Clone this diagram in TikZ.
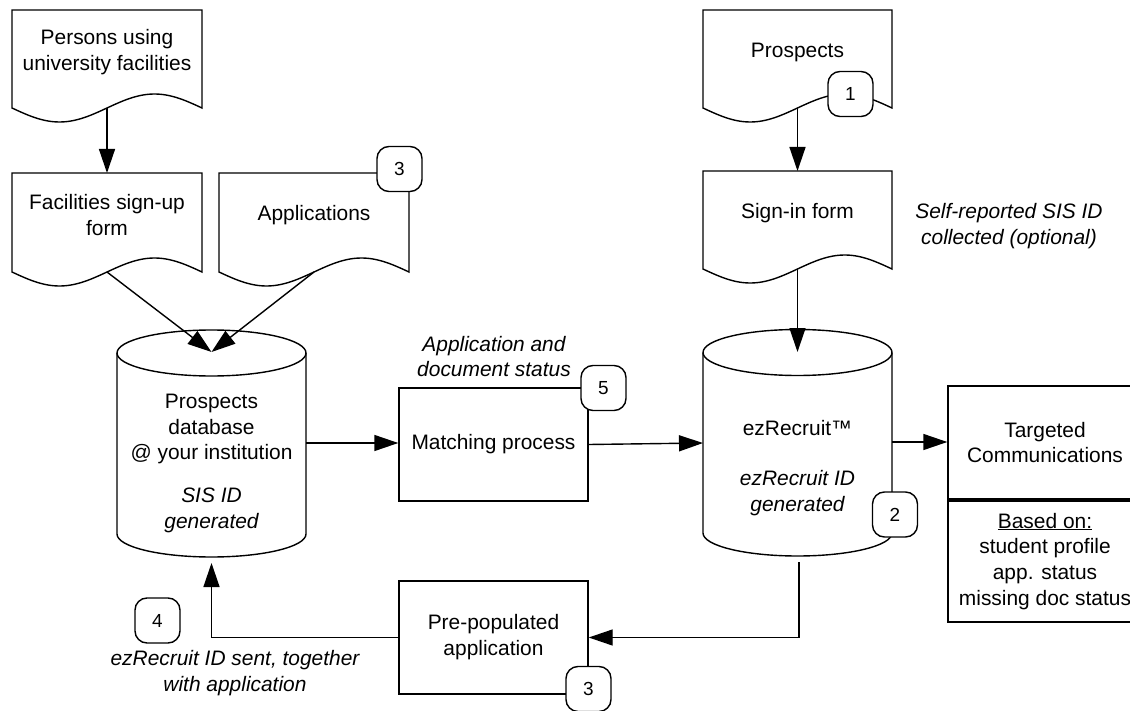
\documentclass[tikz,border=0pt]{standalone}
\usepackage{fontspec}
\setmainfont{Liberation Sans}
\usetikzlibrary{arrows.meta,calc}
\tikzset{
  shp/.style={draw=black, line width=1.4bp, fill=white},
  arr/.style={draw=black, line width=1.4bp, -{Triangle[length=24bp,width=16bp]}},
  txt/.style={align=center, inner sep=0pt, font=\fontsize{21}{26}\selectfont},
  itxt/.style={align=center, inner sep=0pt, font=\fontsize{21}{26}\selectfont\itshape},
  procbox/.style={draw=black, line width=1.4bp, fill=white, inner sep=0pt, align=center,
    font=\fontsize{21}{26}\selectfont},
  badge/.style={draw=black, fill=white, line width=1.4bp, rounded corners=12bp,
    minimum width=45bp, minimum height=45bp, inner sep=0pt, font=\fontsize{19}{22}\selectfont}
}
\newcommand\docshape[5]{% name, x0, top, x1, yb
  \pgfmathsetmacro\dsQ{(#4-#2)/4}
  \pgfmathsetmacro\dsM{(#2+#4)/2}
  \draw[shp] (#2,#3) -- (#4,#3) -- (#4,#5) sin ({#4-\dsQ},{#5-14}) cos (\dsM,#5)
     sin ({#2+\dsQ},{#5+14}) cos (#2,#5) -- cycle;
  \coordinate (#1-top) at (\dsM,#3);
  \coordinate (#1-out) at (\dsM,#5);
}
\newcommand\cylshape[4]{% cx, yt, yb, rx
  \pgfmathsetmacro\cyL{#1-#4}
  \pgfmathsetmacro\cyR{#1+#4}
  \pgfmathsetmacro\cyK{0.5523*#4}
  \draw[shp] (\cyL,#2) -- (\cyL,#3) .. controls (\cyL,{#3+12.7}) and ({#1-\cyK},{#3+23}) .. (#1,{#3+23})
     .. controls ({#1+\cyK},{#3+23}) and (\cyR,{#3+12.7}) .. (\cyR,#3) -- (\cyR,#2);
  \draw[shp] (#1,#2) ellipse [x radius=#4, y radius=23];
}
\begin{document}
\begin{tikzpicture}[x=1bp,y=-1bp]
\useasboundingbox (0,0) rectangle (1130,711);
\clip (0,0) rectangle (1130,711);

% documents
\docshape{persons}{12}{10}{202}{108}
\docshape{fac}{12}{173}{202}{272}
\docshape{apps}{219}{173}{409}{272}
\docshape{pros}{703}{10}{892}{108}
\docshape{sign}{703}{171}{892}{269}

% cylinders
\cylshape{211.5}{353}{534}{94.5}
\cylshape{797.5}{352.5}{533}{94.5}
\coordinate (pdb-in) at (211.5,352);
\coordinate (pdb-e) at (306,443);
\coordinate (pdb-b) at (211.5,563);
\coordinate (ez-in) at (797.5,352);
\coordinate (ez-w) at (703,443);
\coordinate (ez-e) at (892,442);
\coordinate (ez-b) at (799,562);

% process boxes
\node[procbox, minimum width=189bp, minimum height=113bp] (match) at (493.5,444.5) {Matching process};
\node[procbox, minimum width=189bp, minimum height=113bp] (prepop) at (493.5,637.5) {Pre-populated\\application};
\node[procbox, minimum width=194bp, minimum height=113bp] (target) at (1045,442.5) {Targeted\\Communications};
\node[procbox, minimum width=194bp, minimum height=121bp] (based) at (1045,561.5)
  {\underline{Based on:}\\student profile\\app. status\\missing doc status};

% connectors
\draw[arr] (persons-out) -- (fac-top);
\draw[arr] (fac-out) -- (pdb-in);
\draw[arr] (apps-out) -- (pdb-in);
\draw[arr] (pros-out) -- (sign-top);
\draw[arr] (sign-out) -- (ez-in);
\draw[arr] (pdb-e) -- (pdb-e -| match.west);
\draw[arr] (match.east) -- (ez-w);
\draw[arr] (ez-e) -- (ez-e -| target.west);
\draw[arr] (ez-b) |- (prepop.east);
\draw[arr] (prepop.west) -| (pdb-b);

% texts
\node[txt] (tpersons) at (107,52) {Persons using\\university facilities};
\node[txt] (tfac) at (107,215) {Facilities sign-up\\form};
\node[txt] (tapps) at (314,215) {Applications};
\node[txt] (tpros) at (797.5,52) {Prospects};
\node[txt] (tsign) at (797.5,213) {Sign-in form};
\node[itxt] (tself) at (1009,226.5) {Self-reported SIS ID\\collected (optional)};
\node[txt] (tpdb) at (211.5,429) {Prospects\\database\\@ your institution};
\node[itxt] (tsis) at (211.5,510) {SIS ID\\generated};
\node[txt] (tez) at (797.5,428) {ezRecruit™};
\node[itxt] (tezid) at (797.5,493) {ezRecruit ID\\generated};
\node[itxt] (tstatus) at (494,356.5) {Application and\\document status};
\node[itxt] (tsent) at (235,673) {ezRecruit ID sent, together\\with application};

% badges
\node[badge] (b3a) at (399.5,169) {3};
\node[badge] (b1) at (850.5,94) {1};
\node[badge] (b2) at (895,514.5) {2};
\node[badge] (b5) at (603.5,388) {5};
\node[badge] (b4) at (157.5,620.5) {4};
\node[badge] (b3b) at (588.5,689) {3};
\end{tikzpicture}
\end{document}
